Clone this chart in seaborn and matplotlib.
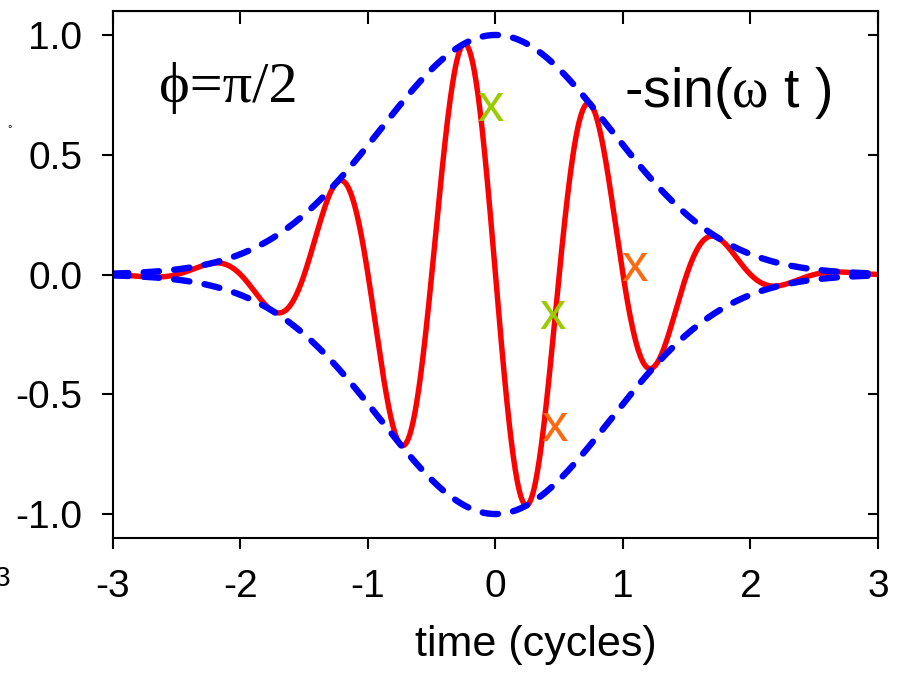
import numpy as np
import matplotlib
matplotlib.use("Agg")
import matplotlib.pyplot as plt
import seaborn as sns

# pulse parameters (time in cycles)
pulse_fwhm = 1.5          # intensity FWHM of the gaussian envelope
carrier_period = 1.0
t_range = (-3.0, 3.0)

# the coloured "x" marks: (time, value)
green_x = [-0.04, 0.45]
green_y = [0.70, -0.17]
orange_x = [1.09, 0.46]
orange_y = [0.03, -0.635]

x_ticks = [-3, -2, -1, 0, 1, 2, 3]
y_ticks = [-1.0, -0.5, 0.0, 0.5, 1.0]
y_ticklabels = ["-1.0", "-0.5", "0.0", "0.5", "1.0"]

sns.set_style("ticks")
plt.rcParams["font.family"] = ["Liberation Sans", "DejaVu Sans"]
plt.rcParams["mathtext.fontset"] = "custom"
plt.rcParams["mathtext.it"] = "Liberation Serif"
plt.rcParams["mathtext.rm"] = "Liberation Serif"
for key in ["text.color", "axes.labelcolor", "xtick.color", "ytick.color", "axes.edgecolor"]:
    plt.rcParams[key] = "black"

t = np.linspace(t_range[0], t_range[1], 1201)
env = np.exp(-2 * np.log(2) * t**2 / pulse_fwhm**2)
field = -np.sin(2 * np.pi * t / carrier_period) * env

fig = plt.figure(figsize=(8.99, 6.81), dpi=100)
ax = fig.add_axes([0.1257, 0.21, 0.8509, 0.7738])

sns.lineplot(x=t, y=field, ax=ax, color="#ff0000", lw=3.9, sort=False)
for sgn in (1, -1):
    sns.lineplot(x=t, y=sgn * env, ax=ax, color="#0000ff", lw=4.6, sort=False,
                 linestyle=(0, (2.4, 2.4)), dash_capstyle="round")

for xs, ys, col in [(green_x, green_y, "#99cc00"), (orange_x, orange_y, "#ff6a10")]:
    for xv, yv in zip(xs, ys):
        ax.text(xv, yv, "x", color=col, fontsize=38, ha="center", va="center")

ax.set_xlim(*t_range)
ax.set_ylim(-1.1, 1.1)
ax.set_xticks(x_ticks)
ax.set_xticklabels([str(v) for v in x_ticks])
ax.set_yticks(y_ticks)
ax.set_yticklabels(y_ticklabels)
ax.tick_params(direction="out", length=8, width=1.5, labelsize=28, pad=14)
for sp in ax.spines.values():
    sp.set_linewidth(1.5)

top = ax.secondary_xaxis("top")
top.set_xticks(x_ticks)
top.tick_params(direction="in", length=9, width=1.5, labeltop=False)
right = ax.secondary_yaxis("right")
right.set_yticks(y_ticks)
right.tick_params(direction="in", length=7, width=1.5, labelright=False)

ax.set_xlabel("time (cycles)", fontsize=31)
ax.xaxis.set_label_coords(0.553, -0.165)

ax.text(0.06, 0.828, "ϕ=π/2", transform=ax.transAxes, fontsize=42,
        family=["Liberation Serif", "DejaVu Serif"], ha="left", va="baseline")
ax.text(0.668, 0.818, r"-sin($\mathrm{\omega}$ t )", transform=ax.transAxes, fontsize=40,
        ha="left", va="baseline")

# leftover fragments at the left edge of the original
fig.text(-0.006, 0.15, "3", fontsize=20, ha="left", va="center")
fig.text(0.008, 0.81, "°", fontsize=8, ha="left", va="center")

fig.savefig("out.png", dpi=100)
